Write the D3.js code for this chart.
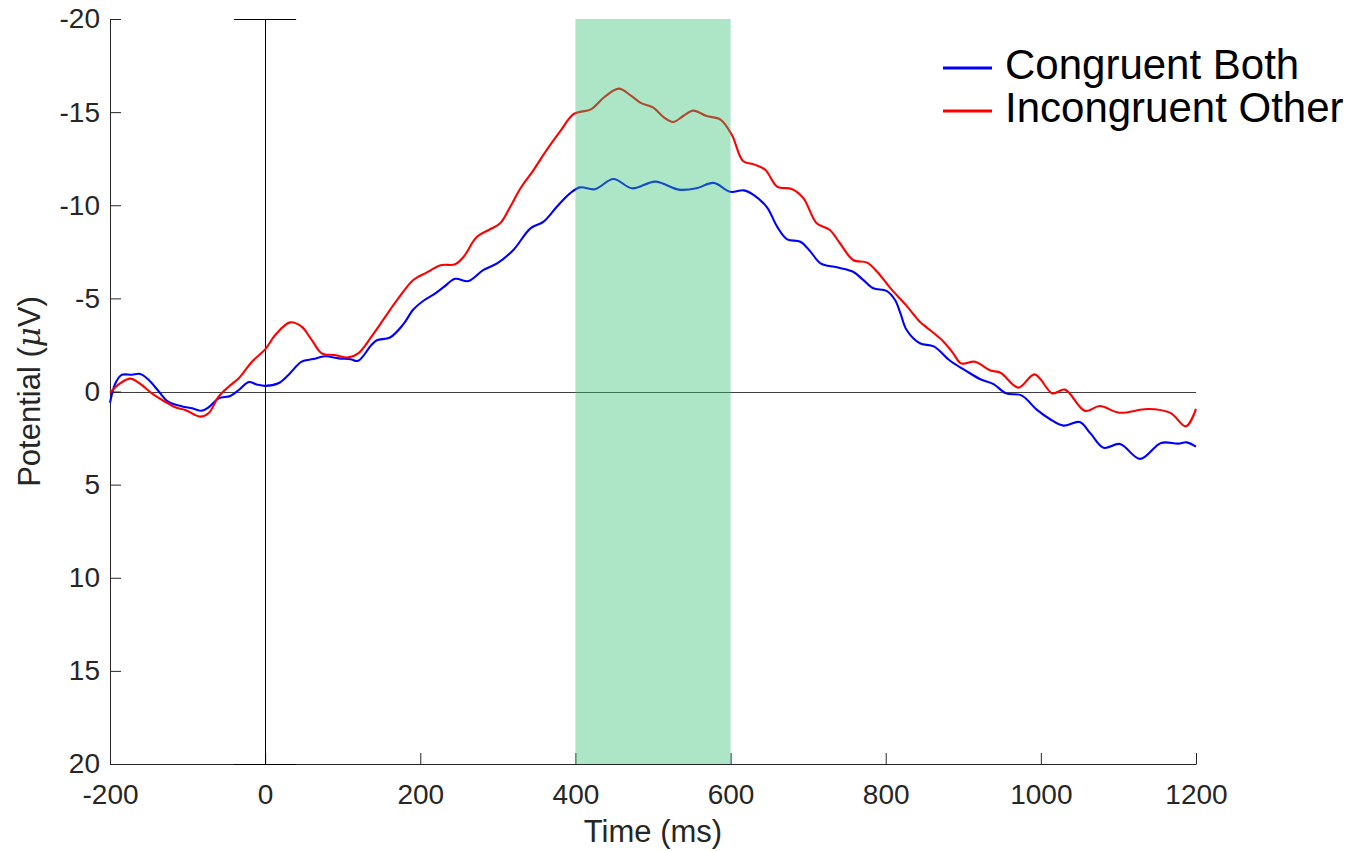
<!DOCTYPE html>
<html>
<head>
<meta charset="utf-8">
<script src="https://cdn.jsdelivr.net/npm/d3@7"></script>
<style>
  html, body { margin: 0; padding: 0; background: #fff; }
  svg { display: block; font-family: "Liberation Sans", Arial, Helvetica, sans-serif; }
</style>
</head>
<body>
<svg id="chart" width="1355" height="851"></svg>
<script>
// ---- data ----
const seriesNames = ["Congruent Both", "Incongruent Other"];
const seriesColors = ["#0000ff", "#ff0000"];

const congruentTime = [-200,-193,-185,-172,-161,-150,-137,-125,-107,-94,-82,-73,-60,-45,-34,-21,-11,0,17,30,47,62,77,95,110,120,137,144,161,178,191,205,217,230,245,262,281,299,320,342,359,376,393,406,425,449,473,503,533,556,578,600,617,630,647,660,673,690,703,716,737,758,771,784,801,812,819,827,844,862,883,902,922,939,955,975,995,1012,1029,1050,1064,1081,1102,1128,1155,1177,1188,1200];
const congruentValue = [0.6,-0.44,-0.89,-0.9,-0.94,-0.62,0,0.55,0.8,0.9,1.03,0.85,0.37,0.24,-0.08,-0.51,-0.38,-0.3,-0.44,-0.89,-1.6,-1.74,-1.89,-1.78,-1.73,-1.65,-2.5,-2.75,-2.9,-3.6,-4.4,-4.9,-5.2,-5.6,-6.05,-5.93,-6.52,-6.88,-7.6,-8.76,-9.12,-9.92,-10.64,-10.96,-10.86,-11.41,-10.91,-11.27,-10.84,-10.91,-11.2,-10.72,-10.8,-10.55,-9.89,-8.85,-8.17,-8.04,-7.51,-6.88,-6.67,-6.43,-5.99,-5.54,-5.4,-4.91,-4.2,-3.3,-2.59,-2.42,-1.65,-1.15,-0.66,-0.4,0.1,0.21,0.99,1.49,1.83,1.64,2.25,3.02,2.82,3.62,2.76,2.8,2.73,2.96];

const incongruentTime = [-200,-187,-174,-163,-146,-129,-116,-103,-84,-73,-60,-47,-34,-17,0,13,32,47,60,73,90,107,120,137,153,170,191,208,226,245,256,273,290,303,316,329,346,363,380,398,420,437,456,471,484,500,514,526,539,552,569,587,602,616,631,645,660,679,694,711,728,741,758,776,789,806,827,844,857,874,887,897,915,935,948,971,992,1015,1031,1057,1076,1101,1138,1167,1187,1200];
const incongruentValue = [0.06,-0.44,-0.69,-0.47,0.1,0.55,0.85,0.99,1.35,1.17,0.28,-0.26,-0.71,-1.6,-2.26,-3.03,-3.71,-3.48,-2.77,-2.05,-1.96,-1.83,-2.05,-2.94,-3.9,-4.91,-5.99,-6.38,-6.78,-6.83,-7.24,-8.31,-8.71,-9.03,-9.92,-10.9,-11.89,-12.97,-13.95,-14.9,-15.15,-15.8,-16.26,-15.9,-15.5,-15.25,-14.72,-14.47,-14.79,-15.08,-14.79,-14.6,-13.75,-12.38,-12.18,-11.89,-11.0,-10.87,-10.37,-9.03,-8.67,-7.96,-7.06,-6.92,-6.43,-5.55,-4.6,-3.75,-3.3,-2.7,-2.05,-1.51,-1.6,-1.13,-1.01,-0.21,-0.92,0.1,-0.1,1.04,0.78,1.14,0.94,1.15,1.87,0.93];

const xTicks = [-200, 0, 200, 400, 600, 800, 1000, 1200];
const yTicks = [-20, -15, -10, -5, 0, 5, 10, 15, 20];
const xDomain = [-200, 1200];
const yDomain = [-20, 20];
const windowRange = [400, 600];
const onsetCapHalfWidth = 40;
const xLabel = "Time (ms)";

// ---- layout ----
const svg = d3.select("#chart");
const plotLeft = 110, plotRight = 1196, plotTop = 19, plotBottom = 764;
const axisColor = "#262626";

const x = d3.scaleLinear().domain(xDomain).range([plotLeft, plotRight]);
const y = d3.scaleLinear().domain(yDomain).range([plotTop, plotBottom]);

// axes
const yAxis = d3.axisLeft(y).tickValues(yTicks).tickSize(-11).tickSizeOuter(0).tickPadding(10)
  .tickFormat(d => String(d));
const xAxis = d3.axisBottom(x).tickValues(xTicks).tickSize(-11).tickSizeOuter(0).tickPadding(20)
  .tickFormat(d => String(d));

const gy = svg.append("g").attr("transform", `translate(${plotLeft},0)`).call(yAxis);
const gx = svg.append("g").attr("transform", `translate(0,${plotBottom})`).call(xAxis);
[gx, gy].forEach(g => {
  g.selectAll("path.domain").attr("stroke", axisColor).attr("stroke-width", 1);
  g.selectAll(".tick line").attr("stroke", axisColor).attr("stroke-width", 1);
  g.selectAll(".tick text").attr("fill", axisColor).style("font-size", "28px")
    .style("font-family", '"Liberation Sans", Arial, Helvetica, sans-serif');
});

// zero line
svg.append("line")
  .attr("x1", x(xDomain[0])).attr("x2", x(xDomain[1]))
  .attr("y1", Math.round(y(0)) + 0.5).attr("y2", Math.round(y(0)) + 0.5)
  .attr("stroke", "#000").attr("stroke-opacity", 0.75).attr("stroke-width", 1);

// onset line with caps
const x0 = Math.round(x(0)) + 0.5;
svg.append("line").attr("x1", x0).attr("x2", x0).attr("y1", y(yDomain[0])).attr("y2", y(yDomain[1]))
  .attr("stroke", "#000").attr("stroke-width", 1);
[yDomain[0], yDomain[1]].forEach(v => {
  svg.append("line")
    .attr("x1", x(-onsetCapHalfWidth)).attr("x2", x(onsetCapHalfWidth))
    .attr("y1", y(v) + 0.5).attr("y2", y(v) + 0.5)
    .attr("stroke", "#000").attr("stroke-width", 1);
});

// series
const series = [
  d3.zip(congruentTime, congruentValue),
  d3.zip(incongruentTime, incongruentValue)
];
const line = d3.line().x(d => x(d[0])).y(d => y(d[1])).curve(d3.curveCatmullRom.alpha(0.5));
series.forEach((s, i) => {
  svg.append("path").datum(s).attr("d", line)
    .attr("fill", "none").attr("stroke", seriesColors[i]).attr("stroke-width", 2.1)
    .attr("stroke-linejoin", "round");
});

// shaded window (translucent, drawn on top)
svg.append("rect")
  .attr("x", x(windowRange[0])).attr("width", x(windowRange[1]) - x(windowRange[0]))
  .attr("y", y(yDomain[0])).attr("height", y(yDomain[1]) - y(yDomain[0]))
  .attr("fill", "rgb(51,191,115)").attr("fill-opacity", 0.4);

// axis labels
svg.append("text").attr("x", (plotLeft + plotRight) / 2).attr("y", 842)
  .attr("text-anchor", "middle").attr("fill", axisColor).style("font-size", "31px")
  .text(xLabel);
const yl = svg.append("text")
  .attr("transform", `translate(40,${(plotTop + plotBottom) / 2}) rotate(-90)`)
  .attr("text-anchor", "middle").attr("fill", axisColor).style("font-size", "31px");
yl.append("tspan").text("Potential (");
yl.append("tspan").style("font-style", "italic").style("font-family", '"DejaVu Serif", serif').text("\u03bc");
yl.append("tspan").text("V)");

// legend
const legend = svg.append("g");
seriesNames.forEach((name, i) => {
  const ly = 68 + i * 43;
  legend.append("line").attr("x1", 943).attr("x2", 992).attr("y1", ly).attr("y2", ly)
    .attr("stroke", seriesColors[i]).attr("stroke-width", 3);
  legend.append("text").attr("x", 1005).attr("y", ly + 11)
    .attr("fill", "#000").style("font-size", "42px").text(name);
});
</script>
</body>
</html>
